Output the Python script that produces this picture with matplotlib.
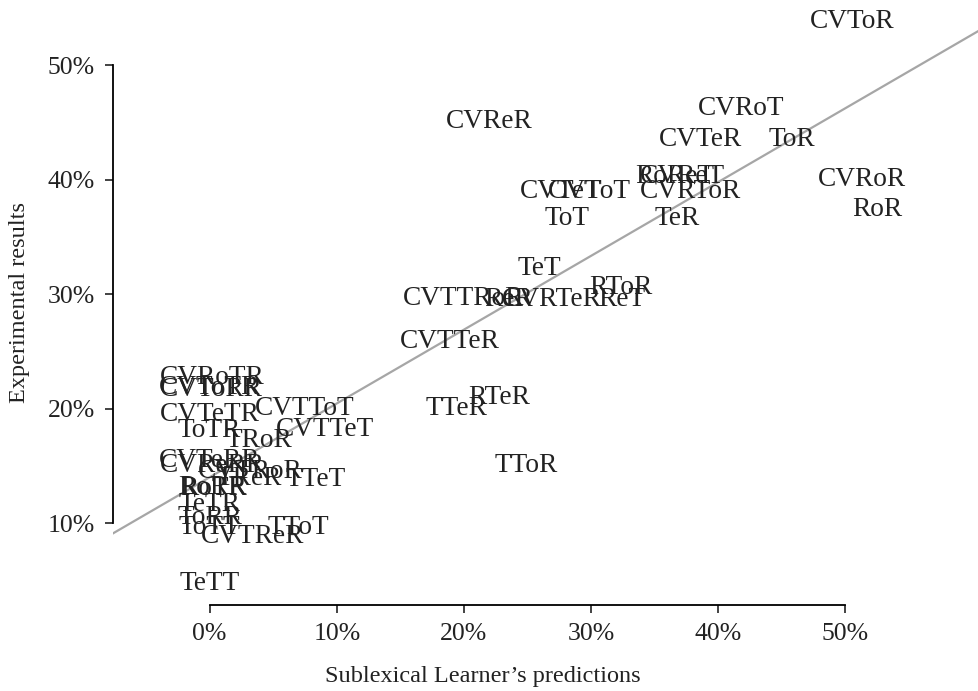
import matplotlib.pyplot as plt

plt.rcParams['font.family'] = ['Liberation Serif', 'DejaVu Serif']

# items, predicted % (Sublexical Learner) and observed % (experiment)
labels = ['CVToR', 'CVReR', 'CVRoT', 'CVTeR', 'ToR', 'CVRoR', 'RoR',
          'CVTeT', 'CVToT', 'CVRToR', 'RoReT', 'CVReT', 'ToT', 'TeR',
          'TeT', 'RToR', 'CVTTRoR', 'ReR', 'CVRTeR', 'ReT', 'CVTTeR',
          'RTeR', 'TTeR', 'TToR',
          'CVRoTR', 'CVToTR', 'CVToRR', 'CVTeTR', 'CVTToT', 'ToTR', 'CVTTeT',
          'TRoR', 'CVTeRR', 'CVReRR', 'CVTRoR', 'TReR', 'TTeT', 'RoRR', 'RoTR',
          'TeTR', 'ToRR', 'ToTT', 'CVTReR', 'TToT', 'TeTT']
predicted = [50.5, 22.0, 41.8, 38.6, 45.8, 51.3, 52.5,
             27.6, 29.9, 37.8, 36.6, 37.2, 28.1, 36.8,
             25.9, 32.3, 20.0, 23.5, 26.9, 32.4, 18.9,
             22.8, 19.4, 24.9,
             0.2, 0.0, 0.1, 0.0, 7.5, 0.0, 9.1,
             3.9, 0.0, 0.2, 3.2, 3.1, 8.3, 0.2, 0.3,
             0.0, 0.0, 0.0, 3.4, 7.0, 0.0]
observed = [53.8, 45.1, 46.2, 43.5, 43.5, 40.0, 37.4,
            39.0, 39.0, 39.0, 40.3, 40.3, 36.6, 36.6,
            32.2, 30.6, 29.6, 29.5, 29.5, 29.5, 25.9,
            21.0, 20.0, 15.0,
            22.7, 21.8, 21.7, 19.5, 20.0, 18.1, 18.2,
            17.2, 15.5, 15.0, 14.5, 13.9, 13.8, 13.1, 13.0,
            11.6, 10.5, 9.65, 8.8, 9.65, 4.7]

# fitted line
fit_intercept = 14.0
fit_slope = 0.645

xticks = [0, 10, 20, 30, 40, 50]
yticks = [10, 20, 30, 40, 50]

fig = plt.figure(figsize=(9.79, 6.91), dpi=100)
ax = fig.add_axes([113 / 979, 86 / 691, 866 / 979, 605 / 691])
ax.set_xlim(-7.6, 60.5)
ax.set_ylim(2.84, 55.7)

ax.axline((0, fit_intercept), slope=fit_slope, color='#a6a6a6', lw=1.6, zorder=1)

for lab, x, y in zip(labels, predicted, observed):
    ax.text(x, y, lab, ha='center', va='center', fontsize=19.7, color='#222222',
            zorder=2)

for s in ['top', 'right']:
    ax.spines[s].set_visible(False)
ax.spines['left'].set_bounds(10, 50)
ax.spines['bottom'].set_bounds(0, 50)
ax.spines['left'].set_linewidth(1.3)
ax.spines['bottom'].set_linewidth(1.3)

ax.set_xticks(xticks)
ax.set_xticklabels([f'{t}%' for t in xticks])
ax.set_yticks(yticks)
ax.set_yticklabels([f'{t}%' for t in yticks])
ax.tick_params(labelsize=18.5, length=6, width=1.2, colors='#222222')
ax.tick_params(axis='x', pad=7)
ax.tick_params(axis='y', pad=7)

ax.set_xlabel('Sublexical Learner\u2019s predictions', fontsize=17.5, color='#222222')
ax.xaxis.set_label_coords(0.427, -0.119)
ax.xaxis.label.set_va('center')
ax.set_ylabel('Experimental results', fontsize=17.5, labelpad=13, color='#222222')

fig.savefig('out.png', dpi=100)
